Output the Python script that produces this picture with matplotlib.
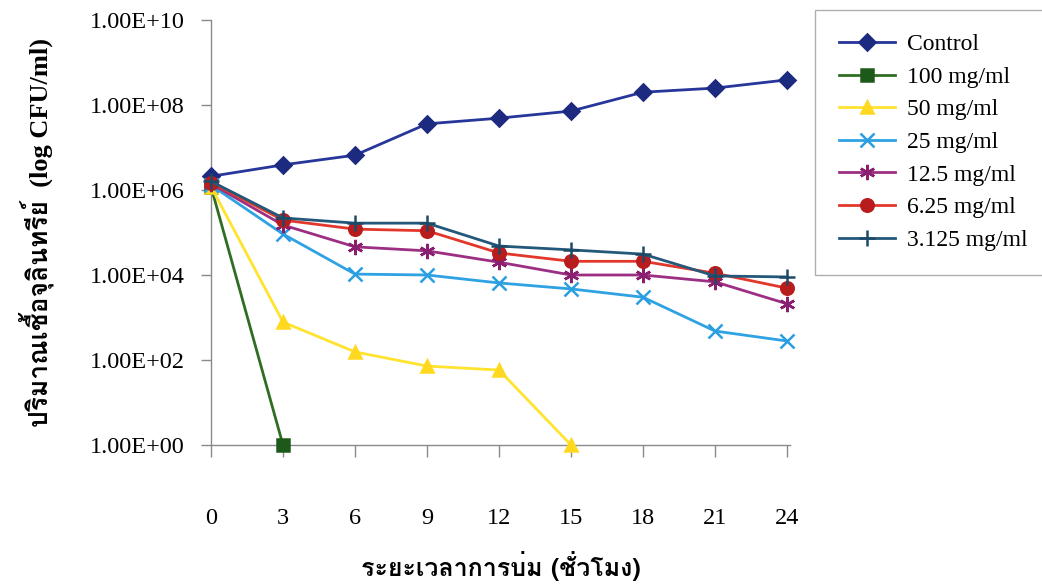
import matplotlib
matplotlib.use("Agg")
import matplotlib.pyplot as plt
from matplotlib import font_manager
from matplotlib.ft2font import FT2Font

HOURS = [0, 3, 6, 9, 12, 15, 18, 21, 24]

LABELS = ["Control", "100 mg/ml", "50 mg/ml", "25 mg/ml",
          "12.5 mg/ml", "6.25 mg/ml", "3.125 mg/ml"]

control = [2.1e6, 3.9e6, 6.6e6, 3.6e7, 4.9e7, 7.2e7, 2.0e8, 2.5e8, 3.9e8]
mg100 = [1.2e6, 1.0e0]
mg50 = [1.2e6, 7.8e2, 1.55e2, 7.2e1, 5.8e1, 1.0e0]
mg25 = [1.3e6, 9.2e4, 1.05e4, 1.0e4, 6.5e3, 4.7e3, 3.0e3, 4.8e2, 2.8e2]
mg12_5 = [1.4e6, 1.5e5, 4.6e4, 3.7e4, 2.0e4, 1.0e4, 1.0e4, 6.9e3, 2.1e3]
mg6_25 = [1.5e6, 1.96e5, 1.2e5, 1.1e5, 3.3e4, 2.1e4, 2.1e4, 1.1e4, 4.9e3]
mg3_125 = [1.6e6, 2.2e5, 1.66e5, 1.66e5, 4.8e4, 3.9e4, 3.1e4, 9.5e3, 9.0e3]

SERIES = [control, mg100, mg50, mg25, mg12_5, mg6_25, mg3_125]

Y_TICKS = [1e0, 1e2, 1e4, 1e6, 1e8, 1e10]
Y_TICK_LABELS = ["1.00E+00", "1.00E+02", "1.00E+04", "1.00E+06", "1.00E+08", "1.00E+10"]

Y_LABEL = "ปริมาณเชื้อจุลินทรีย์  (log CFU/ml)"
X_LABEL = "ระยะเวลาการบ่ม (ชั่วโมง)"

# colour, marker colour, marker, marker size
STYLES = [
    ("#27369a", "#1c2a80", "D", 8),
    ("#2f6e22", "#1d5a1a", "s", 8),
    ("#ffe32e", "#ffd81f", "^", 9),
    ("#2ea2e2", "#2a9ee0", "x", 10),
    ("#9c2f82", "#8a1f70", (6, 2, 0), 11),
    ("#e2382c", "#b81c1c", "o", 9),
    ("#24587a", "#1d4a68", "+", 12),
]


def thai_font():
    # first installed face that actually carries Thai glyphs
    seen = set()
    for f in font_manager.fontManager.ttflist:
        if f.fname in seen:
            continue
        seen.add(f.fname)
        try:
            cmap = FT2Font(f.fname).get_charmap()
        except Exception:
            continue
        if 0x0E1B in cmap and 0x0E23 in cmap:
            return f.name
    return "DejaVu Sans"


SERIF = "Liberation Serif"
THAI = thai_font()
plt.rcParams["font.family"] = [SERIF, THAI, "DejaVu Sans"]

fig = plt.figure(figsize=(10.42, 5.86), dpi=100)
ax = fig.add_axes([211 / 1042, 1 - 445 / 586, 579 / 1042, 425 / 586])

for vals, lab, (col, mcol, mk, ms) in zip(SERIES, LABELS, STYLES):
    ax.plot(HOURS[:len(vals)], vals, color=col, lw=2.0, marker=mk, ms=ms,
            mfc=mcol, mec=mcol, mew=1.8, label=lab, clip_on=False, zorder=3)

ax.set_yscale("log")
ax.set_ylim(1e0, 1e10)
ax.set_xlim(0, 24 * 579 / 576)
ax.set_yticks(Y_TICKS)
ax.set_yticklabels(Y_TICK_LABELS)
ax.minorticks_off()
ax.set_xticks(HOURS)
ax.set_xticklabels([str(h) for h in HOURS])

for s in ("top", "right"):
    ax.spines[s].set_visible(False)
for s in ("left", "bottom"):
    ax.spines[s].set_color("#8a8a8a")
    ax.spines[s].set_linewidth(1.0)
# tick lengths / pads are in points (0.72 pt per px at 100 dpi)
ax.tick_params(axis="y", direction="out", length=7, width=1.0, color="#8a8a8a",
               labelsize=17.5, pad=12)
ax.tick_params(axis="x", direction="out", length=8.5, width=1.0, color="#8a8a8a",
               labelsize=17.5, pad=37)

ax.set_ylabel(Y_LABEL, fontsize=19, fontweight="bold", family=[SERIF, THAI])
ax.yaxis.set_label_coords(-0.27, 0.5)
ax.set_xlabel(X_LABEL, fontsize=18, fontweight="bold", family=[THAI, SERIF])
ax.xaxis.set_label_coords(0.5, -0.25)

leg = ax.legend(loc="upper left", bbox_to_anchor=(815 / 1042, 1 - 10 / 586),
                bbox_transform=fig.transFigure, frameon=True, fancybox=False,
                borderaxespad=0, fontsize=17, handlelength=2.4, handletextpad=0.5,
                labelspacing=0.47, borderpad=1.0)
leg.get_frame().set_edgecolor("#9a9a9a")
leg.get_frame().set_linewidth(1.0)

fig.savefig("out.png", dpi=100)
